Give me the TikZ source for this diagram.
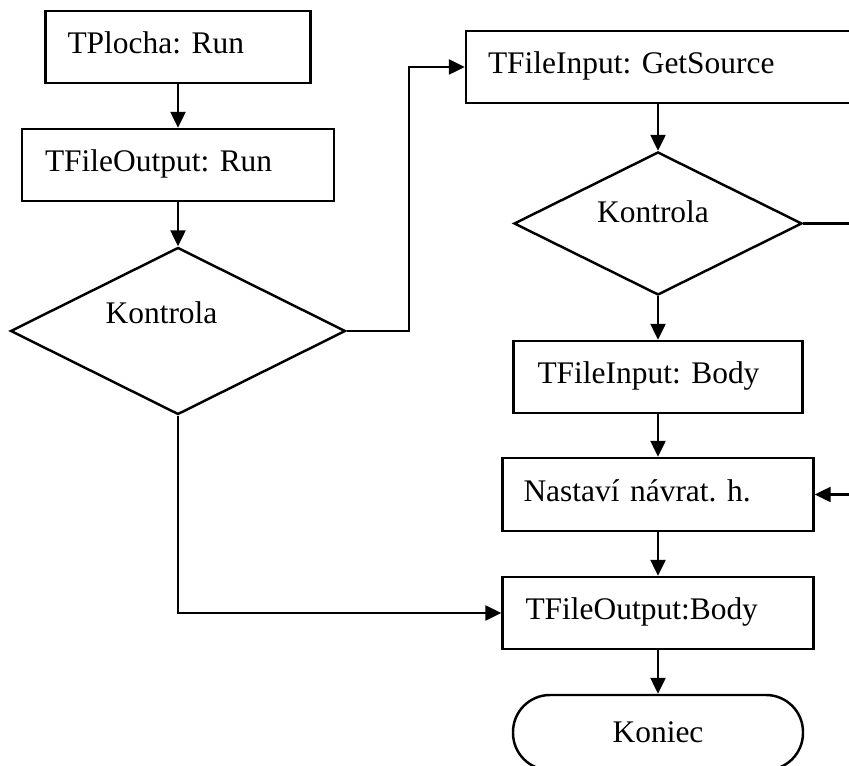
\documentclass[tikz,border=0pt]{standalone}
\usepackage{fontspec}
\setmainfont{Liberation Serif}
\usetikzlibrary{shapes.geometric, arrows.meta}

\begin{document}
\frenchspacing
\begin{tikzpicture}[
    >={Triangle[length=0.32cm, width=0.3cm]}, line width=1.4pt,
    font=\fontsize{17.9}{21.5}\selectfont,
    box/.style={draw, rectangle, align=left, minimum height=1.44cm, text height=0.85em, text depth=0.1em},
    decision/.style={draw, diamond, inner sep=0pt},
    terminal/.style={draw, rectangle, rounded corners=0.74cm, minimum width=5.8cm, minimum height=1.5cm}
]

\useasboundingbox (0,0) rectangle (16.98,15.3);
\clip (0,0) rectangle (16.98,15.3);

% -------------------------
% Left Column
% -------------------------
\node[box, text width=4.42cm, inner xsep=0.44cm] (Plocha) at (3.56, 14.36) {TPlocha: Run};
\node[box, text width=5.32cm, inner xsep=0.46cm] (OutRun) at (3.56, 12.0) {TFileOutput: Run};
\node[decision, minimum width=6.7cm, minimum height=3.34cm] (Check1) at (3.56, 8.68) {};
\node (Check1Label) at (3.23, 9.04) {Kontrola};

% -------------------------
% Right Column
% -------------------------
\node[box, text width=7.0cm, inner xsep=0.44cm] (InSource) at (13.26, 13.96) {TFileInput: GetSource};
\node[decision, minimum width=5.76cm, minimum height=2.86cm] (Check2) at (13.16, 10.83) {};
\node (Check2Label) at (13.06, 11.07) {Kontrola};
\node[box, text width=4.82cm, inner xsep=0.48cm] (InBody) at (13.16, 7.76) {TFileInput: Body};
\node[box, text width=5.38cm, inner xsep=0.42cm, minimum height=1.46cm] (SetRet) at (13.16, 5.41) {Nastaví návrat. h.};
\node[box, text width=5.3cm, inner xsep=0.46cm] (OutBody) at (13.16, 3.04) {TFileOutput:Body};
\node[terminal] (End) at (13.16, 0.65) {Koniec};

% Free ends past the right edge
\coordinate (EdgeTop) at (17.3, 10.83);
\coordinate (EdgeRet) at (17.3, 5.41);

% -------------------------
% Flow Paths
% -------------------------
\draw[->] (Plocha.south) -- (OutRun.north);
\draw[->] (OutRun.south) -- (Check1.north);
\draw[->] (Check1.east) -- ++(1.24, 0) |- (InSource.west);
\draw[->] (Check1.south) |- (OutBody.west);

\draw[->] (Check2.north |- InSource.south) -- (Check2.north);
\draw (Check2.east) -- (EdgeTop);
\draw[->] (Check2.south) -- (InBody.north);
\draw[->] (InBody.south) -- (SetRet.north);
\draw[->] (EdgeRet) -- (SetRet.east);
\draw[->] (SetRet.south) -- (OutBody.north);
\draw[->] (OutBody.south) -- (End.north);

\end{tikzpicture}
\end{document}
